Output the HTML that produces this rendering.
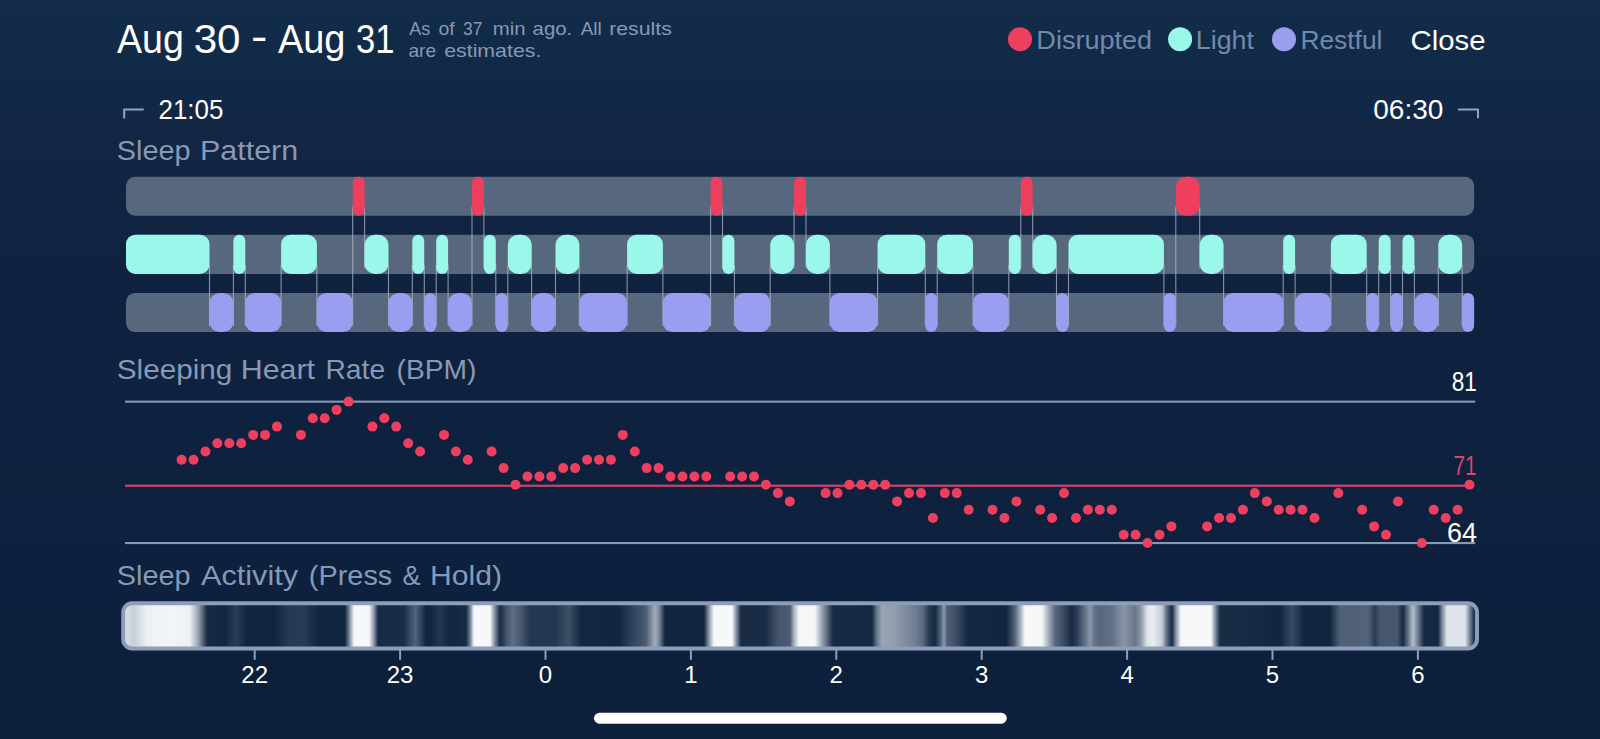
<!DOCTYPE html>
<html lang="en"><head><meta charset="utf-8"><title>Sleep Details</title>
<style>
html,body{margin:0;padding:0;background:#0c203c;}
body{width:1600px;height:739px;overflow:hidden;}
svg{display:block;font-family:"Liberation Sans",Arial,sans-serif;}
</style></head><body>
<svg width="1600" height="739" viewBox="0 0 1600 739">
<defs><linearGradient id="bg" x1="0" y1="0" x2="0" y2="1">
<stop offset="0" stop-color="#132c4a"/><stop offset="0.11" stop-color="#102947"/><stop offset="0.152" stop-color="#112846"/><stop offset="0.162" stop-color="#132744"/><stop offset="0.25" stop-color="#112442"/><stop offset="0.38" stop-color="#0f2340"/>
<stop offset="0.6" stop-color="#0e213e"/><stop offset="1" stop-color="#0c203c"/></linearGradient></defs>
<rect width="1600" height="739" fill="url(#bg)"/>
<text font-size="40.5" fill="#ffffff"><tspan x="117.09" y="53.2" textLength="66.77" lengthAdjust="spacingAndGlyphs">Aug</tspan> <tspan x="193.66" y="53.2" textLength="46.91" lengthAdjust="spacingAndGlyphs">30</tspan> <tspan x="250.98" y="50.9" textLength="16.41" lengthAdjust="spacingAndGlyphs" font-size="42.0">-</tspan> <tspan x="277.90" y="53.2" textLength="67.59" lengthAdjust="spacingAndGlyphs">Aug</tspan> <tspan x="355.90" y="53.2" textLength="38.51" lengthAdjust="spacingAndGlyphs">31</tspan></text>
<text font-size="17.8" fill="#8899b4"><tspan x="409.16" y="34.8" textLength="21.12" lengthAdjust="spacingAndGlyphs">As</tspan> <tspan x="438.55" y="34.8" textLength="16.23" lengthAdjust="spacingAndGlyphs">of</tspan> <tspan x="463.03" y="34.8" textLength="19.34" lengthAdjust="spacingAndGlyphs">37</tspan> <tspan x="492.89" y="34.8" textLength="32.71" lengthAdjust="spacingAndGlyphs">min</tspan> <tspan x="532.63" y="34.8" textLength="39.66" lengthAdjust="spacingAndGlyphs">ago.</tspan> <tspan x="580.68" y="34.8" textLength="21.08" lengthAdjust="spacingAndGlyphs">All</tspan> <tspan x="609.26" y="34.8" textLength="62.50" lengthAdjust="spacingAndGlyphs">results</tspan></text>
<text font-size="17.8" fill="#8899b4"><tspan x="408.45" y="57.2" textLength="27.69" lengthAdjust="spacingAndGlyphs">are</tspan> <tspan x="444.22" y="57.2" textLength="97.11" lengthAdjust="spacingAndGlyphs">estimates.</tspan></text>
<text font-size="25.2" fill="#7389a9"><tspan x="1036.38" y="48.7" textLength="115.80" lengthAdjust="spacingAndGlyphs">Disrupted</tspan></text>
<text font-size="25.2" fill="#7389a9"><tspan x="1195.80" y="48.7" textLength="58.14" lengthAdjust="spacingAndGlyphs">Light</tspan></text>
<text font-size="25.2" fill="#7389a9"><tspan x="1300.42" y="48.6" textLength="82.06" lengthAdjust="spacingAndGlyphs">Restful</tspan></text>
<text font-size="28.5" fill="#ffffff"><tspan x="1410.57" y="49.9" textLength="75.02" lengthAdjust="spacingAndGlyphs">Close</tspan></text>
<text font-size="27.2" fill="#ffffff"><tspan x="158.46" y="118.8" textLength="64.98" lengthAdjust="spacingAndGlyphs">21:05</tspan></text>
<text font-size="27.2" fill="#ffffff"><tspan x="1373.26" y="118.8" textLength="70.05" lengthAdjust="spacingAndGlyphs">06:30</tspan></text>
<text font-size="28.2" fill="#8899b4"><tspan x="116.82" y="160.0" textLength="73.68" lengthAdjust="spacingAndGlyphs">Sleep</tspan> <tspan x="200.04" y="160.0" textLength="98.16" lengthAdjust="spacingAndGlyphs">Pattern</tspan></text>
<text font-size="28.0" fill="#8899b4"><tspan x="116.81" y="379.4" textLength="115.60" lengthAdjust="spacingAndGlyphs">Sleeping</tspan> <tspan x="240.66" y="379.4" textLength="74.41" lengthAdjust="spacingAndGlyphs">Heart</tspan> <tspan x="325.50" y="379.4" textLength="59.58" lengthAdjust="spacingAndGlyphs">Rate</tspan> <tspan x="396.51" y="379.4" textLength="79.93" lengthAdjust="spacingAndGlyphs">(BPM)</tspan></text>
<text font-size="27.3" fill="#ffffff"><tspan x="1451.69" y="391.0" textLength="25.18" lengthAdjust="spacingAndGlyphs">81</tspan></text>
<text font-size="27.0" fill="#d8476d"><tspan x="1453.49" y="475.2" textLength="23.00" lengthAdjust="spacingAndGlyphs">71</tspan></text>
<text font-size="27.3" fill="#ffffff"><tspan x="1447.09" y="541.8" textLength="30.03" lengthAdjust="spacingAndGlyphs">64</tspan></text>
<text font-size="28.0" fill="#8899b4"><tspan x="116.84" y="585.3" textLength="73.75" lengthAdjust="spacingAndGlyphs">Sleep</tspan> <tspan x="200.95" y="585.3" textLength="97.13" lengthAdjust="spacingAndGlyphs">Activity</tspan> <tspan x="308.88" y="585.3" textLength="83.36" lengthAdjust="spacingAndGlyphs">(Press</tspan> <tspan x="402.54" y="585.3" textLength="18.02" lengthAdjust="spacingAndGlyphs">&amp;</tspan> <tspan x="430.08" y="585.3" textLength="72.07" lengthAdjust="spacingAndGlyphs">Hold)</tspan></text>
<circle cx="1020" cy="39.2" r="12" fill="#ee3f5e"/>
<circle cx="1180.1" cy="39.2" r="12" fill="#9af8ea"/>
<circle cx="1284" cy="39.3" r="12" fill="#9a9ef0"/>
<path d="M124.2 118.5V109.5H143.7" stroke="#93a4c2" stroke-width="2.0" fill="none"/>
<path d="M1458 109.5H1478V118.2" stroke="#93a4c2" stroke-width="2.0" fill="none"/>
<rect x="594" y="712.8" width="412.8" height="10.9" rx="5.45" fill="#fff"/>
<rect x="126" y="176.8" width="1348.2" height="38.9" rx="9" fill="#56677e"/>
<rect x="126" y="234.7" width="1348.2" height="39.2" rx="9" fill="#56677e"/>
<rect x="126" y="292.9" width="1348.2" height="39.2" rx="9" fill="#56677e"/>
<path d="M209.5 264.9V326.1M233.4 264.9V326.1M245.3 264.9V326.1M281.1 264.9V326.1M316.9 264.9V326.1M352.7 206.7V326.1M364.6 206.7V267.9M388.5 264.9V326.1M412.3 264.9V326.1M424.3 264.9V326.1M436.2 264.9V326.1M448.1 264.9V326.1M472.0 206.7V326.1M483.9 206.7V267.9M495.8 264.9V326.1M507.8 264.9V326.1M531.6 264.9V326.1M555.5 264.9V326.1M579.3 264.9V326.1M627.1 264.9V326.1M662.9 264.9V326.1M710.6 206.7V326.1M722.5 206.7V267.9M734.4 264.9V326.1M770.2 264.9V326.1M794.1 206.7V267.9M806.0 206.7V267.9M829.9 264.9V326.1M877.6 264.9V326.1M925.3 264.9V326.1M937.2 264.9V326.1M973.0 264.9V326.1M1008.8 264.9V326.1M1020.8 206.7V267.9M1032.7 206.7V267.9M1056.5 264.9V326.1M1068.5 264.9V326.1M1163.9 264.9V326.1M1175.8 206.7V326.1M1199.7 206.7V267.9M1223.6 264.9V326.1M1283.2 264.9V326.1M1295.1 264.9V326.1M1330.9 264.9V326.1M1366.7 264.9V326.1M1378.7 264.9V326.1M1390.6 264.9V326.1M1402.5 264.9V326.1M1414.4 264.9V326.1M1438.3 264.9V326.1M1462.2 264.9V326.1" stroke="#b4bdcb" stroke-opacity=".72" stroke-width="1.1" fill="none"/>
<rect x="126.0" y="234.7" width="83.5" height="39.2" rx="9.5" ry="9.5" fill="#9af8ea"/>
<rect x="209.5" y="292.9" width="23.9" height="39.2" rx="10.5" ry="10.0" fill="#9a9ef0"/>
<rect x="233.4" y="234.7" width="11.9" height="39.2" rx="6.0" ry="6.0" fill="#9af8ea"/>
<rect x="245.3" y="292.9" width="35.8" height="39.2" rx="9.5" ry="9.5" fill="#9a9ef0"/>
<rect x="281.1" y="234.7" width="35.8" height="39.2" rx="9.5" ry="9.5" fill="#9af8ea"/>
<rect x="316.9" y="292.9" width="35.8" height="39.2" rx="9.5" ry="9.5" fill="#9a9ef0"/>
<rect x="352.7" y="176.8" width="11.9" height="38.9" rx="6.0" ry="6.0" fill="#ee3f5e"/>
<rect x="364.6" y="234.7" width="23.9" height="39.2" rx="10.5" ry="10.0" fill="#9af8ea"/>
<rect x="388.5" y="292.9" width="23.9" height="39.2" rx="10.5" ry="10.0" fill="#9a9ef0"/>
<rect x="412.3" y="234.7" width="11.9" height="39.2" rx="6.0" ry="6.0" fill="#9af8ea"/>
<rect x="424.3" y="292.9" width="11.9" height="39.2" rx="6.0" ry="6.0" fill="#9a9ef0"/>
<rect x="436.2" y="234.7" width="11.9" height="39.2" rx="6.0" ry="6.0" fill="#9af8ea"/>
<rect x="448.1" y="292.9" width="23.9" height="39.2" rx="10.5" ry="10.0" fill="#9a9ef0"/>
<rect x="472.0" y="176.8" width="11.9" height="38.9" rx="6.0" ry="6.0" fill="#ee3f5e"/>
<rect x="483.9" y="234.7" width="11.9" height="39.2" rx="6.0" ry="6.0" fill="#9af8ea"/>
<rect x="495.8" y="292.9" width="11.9" height="39.2" rx="6.0" ry="6.0" fill="#9a9ef0"/>
<rect x="507.8" y="234.7" width="23.9" height="39.2" rx="10.5" ry="10.0" fill="#9af8ea"/>
<rect x="531.6" y="292.9" width="23.9" height="39.2" rx="10.5" ry="10.0" fill="#9a9ef0"/>
<rect x="555.5" y="234.7" width="23.9" height="39.2" rx="10.5" ry="10.0" fill="#9af8ea"/>
<rect x="579.3" y="292.9" width="47.7" height="39.2" rx="9.5" ry="9.5" fill="#9a9ef0"/>
<rect x="627.1" y="234.7" width="35.8" height="39.2" rx="9.5" ry="9.5" fill="#9af8ea"/>
<rect x="662.9" y="292.9" width="47.7" height="39.2" rx="9.5" ry="9.5" fill="#9a9ef0"/>
<rect x="710.6" y="176.8" width="11.9" height="38.9" rx="6.0" ry="6.0" fill="#ee3f5e"/>
<rect x="722.5" y="234.7" width="11.9" height="39.2" rx="6.0" ry="6.0" fill="#9af8ea"/>
<rect x="734.4" y="292.9" width="35.8" height="39.2" rx="9.5" ry="9.5" fill="#9a9ef0"/>
<rect x="770.2" y="234.7" width="23.9" height="39.2" rx="10.5" ry="10.0" fill="#9af8ea"/>
<rect x="794.1" y="176.8" width="11.9" height="38.9" rx="6.0" ry="6.0" fill="#ee3f5e"/>
<rect x="806.0" y="234.7" width="23.9" height="39.2" rx="10.5" ry="10.0" fill="#9af8ea"/>
<rect x="829.9" y="292.9" width="47.7" height="39.2" rx="9.5" ry="9.5" fill="#9a9ef0"/>
<rect x="877.6" y="234.7" width="47.7" height="39.2" rx="9.5" ry="9.5" fill="#9af8ea"/>
<rect x="925.3" y="292.9" width="11.9" height="39.2" rx="6.0" ry="6.0" fill="#9a9ef0"/>
<rect x="937.2" y="234.7" width="35.8" height="39.2" rx="9.5" ry="9.5" fill="#9af8ea"/>
<rect x="973.0" y="292.9" width="35.8" height="39.2" rx="9.5" ry="9.5" fill="#9a9ef0"/>
<rect x="1008.8" y="234.7" width="11.9" height="39.2" rx="6.0" ry="6.0" fill="#9af8ea"/>
<rect x="1020.8" y="176.8" width="11.9" height="38.9" rx="6.0" ry="6.0" fill="#ee3f5e"/>
<rect x="1032.7" y="234.7" width="23.9" height="39.2" rx="10.5" ry="10.0" fill="#9af8ea"/>
<rect x="1056.5" y="292.9" width="11.9" height="39.2" rx="6.0" ry="6.0" fill="#9a9ef0"/>
<rect x="1068.5" y="234.7" width="95.4" height="39.2" rx="9.5" ry="9.5" fill="#9af8ea"/>
<rect x="1163.9" y="292.9" width="11.9" height="39.2" rx="6.0" ry="6.0" fill="#9a9ef0"/>
<rect x="1175.8" y="176.8" width="23.9" height="38.9" rx="10.5" ry="10.0" fill="#ee3f5e"/>
<rect x="1199.7" y="234.7" width="23.9" height="39.2" rx="10.5" ry="10.0" fill="#9af8ea"/>
<rect x="1223.6" y="292.9" width="59.7" height="39.2" rx="9.5" ry="9.5" fill="#9a9ef0"/>
<rect x="1283.2" y="234.7" width="11.9" height="39.2" rx="6.0" ry="6.0" fill="#9af8ea"/>
<rect x="1295.1" y="292.9" width="35.8" height="39.2" rx="9.5" ry="9.5" fill="#9a9ef0"/>
<rect x="1330.9" y="234.7" width="35.8" height="39.2" rx="9.5" ry="9.5" fill="#9af8ea"/>
<rect x="1366.7" y="292.9" width="11.9" height="39.2" rx="6.0" ry="6.0" fill="#9a9ef0"/>
<rect x="1378.7" y="234.7" width="11.9" height="39.2" rx="6.0" ry="6.0" fill="#9af8ea"/>
<rect x="1390.6" y="292.9" width="11.9" height="39.2" rx="6.0" ry="6.0" fill="#9a9ef0"/>
<rect x="1402.5" y="234.7" width="11.9" height="39.2" rx="6.0" ry="6.0" fill="#9af8ea"/>
<rect x="1414.4" y="292.9" width="23.9" height="39.2" rx="10.5" ry="10.0" fill="#9a9ef0"/>
<rect x="1438.3" y="234.7" width="23.9" height="39.2" rx="10.5" ry="10.0" fill="#9af8ea"/>
<rect x="1462.2" y="292.9" width="11.9" height="39.2" rx="6.0" ry="6.0" fill="#9a9ef0"/>
<rect x="125" y="400.6" width="1350.2" height="2.1" fill="#8799b5"/>
<rect x="125" y="542" width="1350.2" height="2.1" fill="#8799b5"/>
<rect x="125" y="484.7" width="1345" height="2.1" fill="#d8426a"/>
<g fill="#ee3f5e"><circle cx="181.6" cy="459.8" r="5.0"/><circle cx="193.5" cy="459.8" r="5.0"/><circle cx="205.4" cy="451.5" r="5.0"/><circle cx="217.4" cy="443.2" r="5.0"/><circle cx="229.3" cy="443.2" r="5.0"/><circle cx="241.2" cy="443.2" r="5.0"/><circle cx="253.2" cy="434.9" r="5.0"/><circle cx="265.1" cy="434.9" r="5.0"/><circle cx="277.0" cy="426.6" r="5.0"/><circle cx="300.9" cy="434.9" r="5.0"/><circle cx="312.8" cy="418.2" r="5.0"/><circle cx="324.7" cy="418.2" r="5.0"/><circle cx="336.6" cy="409.9" r="5.0"/><circle cx="348.6" cy="401.6" r="5.0"/><circle cx="372.4" cy="426.6" r="5.0"/><circle cx="384.3" cy="418.2" r="5.0"/><circle cx="396.2" cy="426.6" r="5.0"/><circle cx="408.2" cy="443.2" r="5.0"/><circle cx="420.1" cy="451.5" r="5.0"/><circle cx="444.0" cy="434.9" r="5.0"/><circle cx="455.9" cy="451.5" r="5.0"/><circle cx="467.8" cy="459.8" r="5.0"/><circle cx="491.6" cy="451.5" r="5.0"/><circle cx="503.6" cy="468.1" r="5.0"/><circle cx="515.5" cy="484.8" r="5.0"/><circle cx="527.4" cy="476.5" r="5.0"/><circle cx="539.4" cy="476.5" r="5.0"/><circle cx="551.3" cy="476.5" r="5.0"/><circle cx="563.2" cy="468.1" r="5.0"/><circle cx="575.1" cy="468.1" r="5.0"/><circle cx="587.1" cy="459.8" r="5.0"/><circle cx="599.0" cy="459.8" r="5.0"/><circle cx="610.9" cy="459.8" r="5.0"/><circle cx="622.8" cy="434.9" r="5.0"/><circle cx="634.8" cy="451.5" r="5.0"/><circle cx="646.7" cy="468.1" r="5.0"/><circle cx="658.6" cy="468.1" r="5.0"/><circle cx="670.5" cy="476.5" r="5.0"/><circle cx="682.5" cy="476.5" r="5.0"/><circle cx="694.4" cy="476.5" r="5.0"/><circle cx="706.3" cy="476.5" r="5.0"/><circle cx="730.2" cy="476.5" r="5.0"/><circle cx="742.1" cy="476.5" r="5.0"/><circle cx="754.0" cy="476.5" r="5.0"/><circle cx="765.9" cy="484.8" r="5.0"/><circle cx="777.9" cy="493.1" r="5.0"/><circle cx="789.8" cy="501.4" r="5.0"/><circle cx="825.6" cy="493.1" r="5.0"/><circle cx="837.5" cy="493.1" r="5.0"/><circle cx="849.4" cy="484.8" r="5.0"/><circle cx="861.3" cy="484.8" r="5.0"/><circle cx="873.3" cy="484.8" r="5.0"/><circle cx="885.2" cy="484.8" r="5.0"/><circle cx="897.1" cy="501.4" r="5.0"/><circle cx="909.0" cy="493.1" r="5.0"/><circle cx="921.0" cy="493.1" r="5.0"/><circle cx="932.9" cy="518.0" r="5.0"/><circle cx="944.8" cy="493.1" r="5.0"/><circle cx="956.7" cy="493.1" r="5.0"/><circle cx="968.7" cy="509.7" r="5.0"/><circle cx="992.5" cy="509.7" r="5.0"/><circle cx="1004.4" cy="518.0" r="5.0"/><circle cx="1016.4" cy="501.4" r="5.0"/><circle cx="1040.2" cy="509.7" r="5.0"/><circle cx="1052.1" cy="518.0" r="5.0"/><circle cx="1064.0" cy="493.1" r="5.0"/><circle cx="1076.0" cy="518.0" r="5.0"/><circle cx="1087.9" cy="509.7" r="5.0"/><circle cx="1099.8" cy="509.7" r="5.0"/><circle cx="1111.8" cy="509.7" r="5.0"/><circle cx="1123.7" cy="534.7" r="5.0"/><circle cx="1135.6" cy="534.7" r="5.0"/><circle cx="1147.5" cy="543.0" r="5.0"/><circle cx="1159.5" cy="534.7" r="5.0"/><circle cx="1171.4" cy="526.4" r="5.0"/><circle cx="1207.1" cy="526.4" r="5.0"/><circle cx="1219.1" cy="518.0" r="5.0"/><circle cx="1231.0" cy="518.0" r="5.0"/><circle cx="1242.9" cy="509.7" r="5.0"/><circle cx="1254.8" cy="493.1" r="5.0"/><circle cx="1266.8" cy="501.4" r="5.0"/><circle cx="1278.7" cy="509.7" r="5.0"/><circle cx="1290.6" cy="509.7" r="5.0"/><circle cx="1302.5" cy="509.7" r="5.0"/><circle cx="1314.5" cy="518.0" r="5.0"/><circle cx="1338.3" cy="493.1" r="5.0"/><circle cx="1362.2" cy="509.7" r="5.0"/><circle cx="1374.1" cy="526.4" r="5.0"/><circle cx="1386.0" cy="534.7" r="5.0"/><circle cx="1398.0" cy="501.4" r="5.0"/><circle cx="1421.8" cy="543.0" r="5.0"/><circle cx="1433.7" cy="509.7" r="5.0"/><circle cx="1445.7" cy="518.0" r="5.0"/><circle cx="1457.6" cy="509.7" r="5.0"/><circle cx="1469.5" cy="484.8" r="5.0"/></g>
<defs><linearGradient id="ag" gradientUnits="userSpaceOnUse" x1="125.0" y1="0" x2="1476.0" y2="0"><stop offset="0.000%" stop-color="#d9dee5"/><stop offset="0.666%" stop-color="#c8cfd9"/><stop offset="1.628%" stop-color="#eef1f4"/><stop offset="3.331%" stop-color="#f3f5f8"/><stop offset="4.811%" stop-color="#eceff3"/><stop offset="5.403%" stop-color="#9aa5b5"/><stop offset="6.070%" stop-color="#182b44"/><stop offset="7.402%" stop-color="#12253f"/><stop offset="8.216%" stop-color="#2a3c56"/><stop offset="8.956%" stop-color="#12253f"/><stop offset="11.103%" stop-color="#12253f"/><stop offset="12.213%" stop-color="#283a53"/><stop offset="13.249%" stop-color="#293b55"/><stop offset="14.286%" stop-color="#12253f"/><stop offset="16.284%" stop-color="#12253f"/><stop offset="16.654%" stop-color="#8a96a8"/><stop offset="16.950%" stop-color="#f4f6f9"/><stop offset="18.061%" stop-color="#f6f8fa"/><stop offset="18.431%" stop-color="#8a96a8"/><stop offset="18.727%" stop-color="#182b44"/><stop offset="20.651%" stop-color="#1a2c46"/><stop offset="21.095%" stop-color="#394a63"/><stop offset="21.503%" stop-color="#526179"/><stop offset="21.910%" stop-color="#32445d"/><stop offset="22.280%" stop-color="#12253f"/><stop offset="22.650%" stop-color="#132640"/><stop offset="23.316%" stop-color="#253751"/><stop offset="23.982%" stop-color="#132640"/><stop offset="25.241%" stop-color="#182b44"/><stop offset="25.537%" stop-color="#6d7b90"/><stop offset="25.833%" stop-color="#f6f8fa"/><stop offset="27.017%" stop-color="#f6f8fa"/><stop offset="27.387%" stop-color="#7b889c"/><stop offset="27.757%" stop-color="#182b44"/><stop offset="28.275%" stop-color="#46576f"/><stop offset="28.719%" stop-color="#5f6e84"/><stop offset="29.312%" stop-color="#46576f"/><stop offset="29.978%" stop-color="#253750"/><stop offset="31.828%" stop-color="#253750"/><stop offset="32.865%" stop-color="#3e4f67"/><stop offset="33.753%" stop-color="#142741"/><stop offset="36.566%" stop-color="#12253f"/><stop offset="37.528%" stop-color="#30425b"/><stop offset="38.564%" stop-color="#4b5c73"/><stop offset="38.934%" stop-color="#7d8a9e"/><stop offset="39.230%" stop-color="#a2acbb"/><stop offset="39.526%" stop-color="#7d8a9e"/><stop offset="39.970%" stop-color="#12253f"/><stop offset="42.857%" stop-color="#12253f"/><stop offset="43.227%" stop-color="#8c98a9"/><stop offset="43.597%" stop-color="#f6f8fa"/><stop offset="44.930%" stop-color="#f6f8fa"/><stop offset="45.226%" stop-color="#8c98a9"/><stop offset="45.596%" stop-color="#192b45"/><stop offset="47.372%" stop-color="#192b45"/><stop offset="48.335%" stop-color="#43546c"/><stop offset="49.223%" stop-color="#4d5d74"/><stop offset="49.519%" stop-color="#a9b3c1"/><stop offset="49.889%" stop-color="#f4f6f8"/><stop offset="51.073%" stop-color="#f4f6f8"/><stop offset="51.591%" stop-color="#98a2b3"/><stop offset="52.406%" stop-color="#172a43"/><stop offset="55.292%" stop-color="#152842"/><stop offset="55.662%" stop-color="#69788d"/><stop offset="56.033%" stop-color="#9aa5b5"/><stop offset="56.995%" stop-color="#909cad"/><stop offset="57.809%" stop-color="#7e8b9f"/><stop offset="58.549%" stop-color="#6e7c91"/><stop offset="59.067%" stop-color="#59687f"/><stop offset="59.511%" stop-color="#273953"/><stop offset="59.956%" stop-color="#152842"/><stop offset="60.400%" stop-color="#58687f"/><stop offset="60.622%" stop-color="#8f9bac"/><stop offset="60.844%" stop-color="#506077"/><stop offset="61.510%" stop-color="#3c4d66"/><stop offset="62.398%" stop-color="#142741"/><stop offset="65.211%" stop-color="#12253f"/><stop offset="65.803%" stop-color="#495971"/><stop offset="66.247%" stop-color="#9faab9"/><stop offset="66.617%" stop-color="#f5f7f9"/><stop offset="67.876%" stop-color="#f5f7f9"/><stop offset="68.320%" stop-color="#a9b2c0"/><stop offset="68.838%" stop-color="#59687f"/><stop offset="69.504%" stop-color="#374961"/><stop offset="70.096%" stop-color="#172a43"/><stop offset="70.540%" stop-color="#32435c"/><stop offset="71.429%" stop-color="#8995a7"/><stop offset="71.799%" stop-color="#627187"/><stop offset="72.169%" stop-color="#58677e"/><stop offset="73.131%" stop-color="#657389"/><stop offset="73.945%" stop-color="#8a96a8"/><stop offset="74.759%" stop-color="#67758b"/><stop offset="75.204%" stop-color="#8e99ab"/><stop offset="75.648%" stop-color="#dee2e9"/><stop offset="76.092%" stop-color="#eaedf1"/><stop offset="76.758%" stop-color="#c6ccd7"/><stop offset="77.128%" stop-color="#5b6a81"/><stop offset="77.498%" stop-color="#172a43"/><stop offset="77.794%" stop-color="#8894a6"/><stop offset="78.164%" stop-color="#f6f8fa"/><stop offset="80.385%" stop-color="#f6f8fa"/><stop offset="80.681%" stop-color="#8894a6"/><stop offset="81.051%" stop-color="#1a2d47"/><stop offset="84.012%" stop-color="#162943"/><stop offset="85.492%" stop-color="#12253f"/><stop offset="86.380%" stop-color="#384a62"/><stop offset="87.269%" stop-color="#12253f"/><stop offset="89.193%" stop-color="#12253f"/><stop offset="89.563%" stop-color="#32435c"/><stop offset="89.933%" stop-color="#506077"/><stop offset="92.006%" stop-color="#526279"/><stop offset="92.524%" stop-color="#293b54"/><stop offset="92.894%" stop-color="#44556d"/><stop offset="94.152%" stop-color="#485870"/><stop offset="94.597%" stop-color="#172a43"/><stop offset="94.893%" stop-color="#53637a"/><stop offset="95.337%" stop-color="#b5beca"/><stop offset="95.707%" stop-color="#6e7c91"/><stop offset="96.151%" stop-color="#172a43"/><stop offset="97.187%" stop-color="#152842"/><stop offset="97.483%" stop-color="#79869a"/><stop offset="97.853%" stop-color="#dfe4ea"/><stop offset="99.186%" stop-color="#e1e5eb"/><stop offset="99.482%" stop-color="#8995a7"/><stop offset="99.852%" stop-color="#20324c"/><stop offset="100.000%" stop-color="#20324c"/></linearGradient></defs>
<rect x="123.2" y="603.2" width="1353.8" height="45.3" rx="9" fill="url(#ag)" stroke="#8d9dba" stroke-width="3.9"/>
<rect x="253.7" y="649" width="2" height="10.8" fill="#8d9dba"/><rect x="399.1" y="649" width="2" height="10.8" fill="#8d9dba"/><rect x="544.5" y="649" width="2" height="10.8" fill="#8d9dba"/><rect x="689.9" y="649" width="2" height="10.8" fill="#8d9dba"/><rect x="835.3" y="649" width="2" height="10.8" fill="#8d9dba"/><rect x="980.7" y="649" width="2" height="10.8" fill="#8d9dba"/><rect x="1126.1" y="649" width="2" height="10.8" fill="#8d9dba"/><rect x="1271.5" y="649" width="2" height="10.8" fill="#8d9dba"/><rect x="1416.9" y="649" width="2" height="10.8" fill="#8d9dba"/>
<g font-size="24" fill="#fff"><text x="254.7" y="682.9" text-anchor="middle">22</text><text x="400.1" y="682.9" text-anchor="middle">23</text><text x="545.5" y="682.9" text-anchor="middle">0</text><text x="690.9" y="682.9" text-anchor="middle">1</text><text x="836.3" y="682.9" text-anchor="middle">2</text><text x="981.7" y="682.9" text-anchor="middle">3</text><text x="1127.1" y="682.9" text-anchor="middle">4</text><text x="1272.5" y="682.9" text-anchor="middle">5</text><text x="1417.9" y="682.9" text-anchor="middle">6</text></g>
</svg>
</body></html>
